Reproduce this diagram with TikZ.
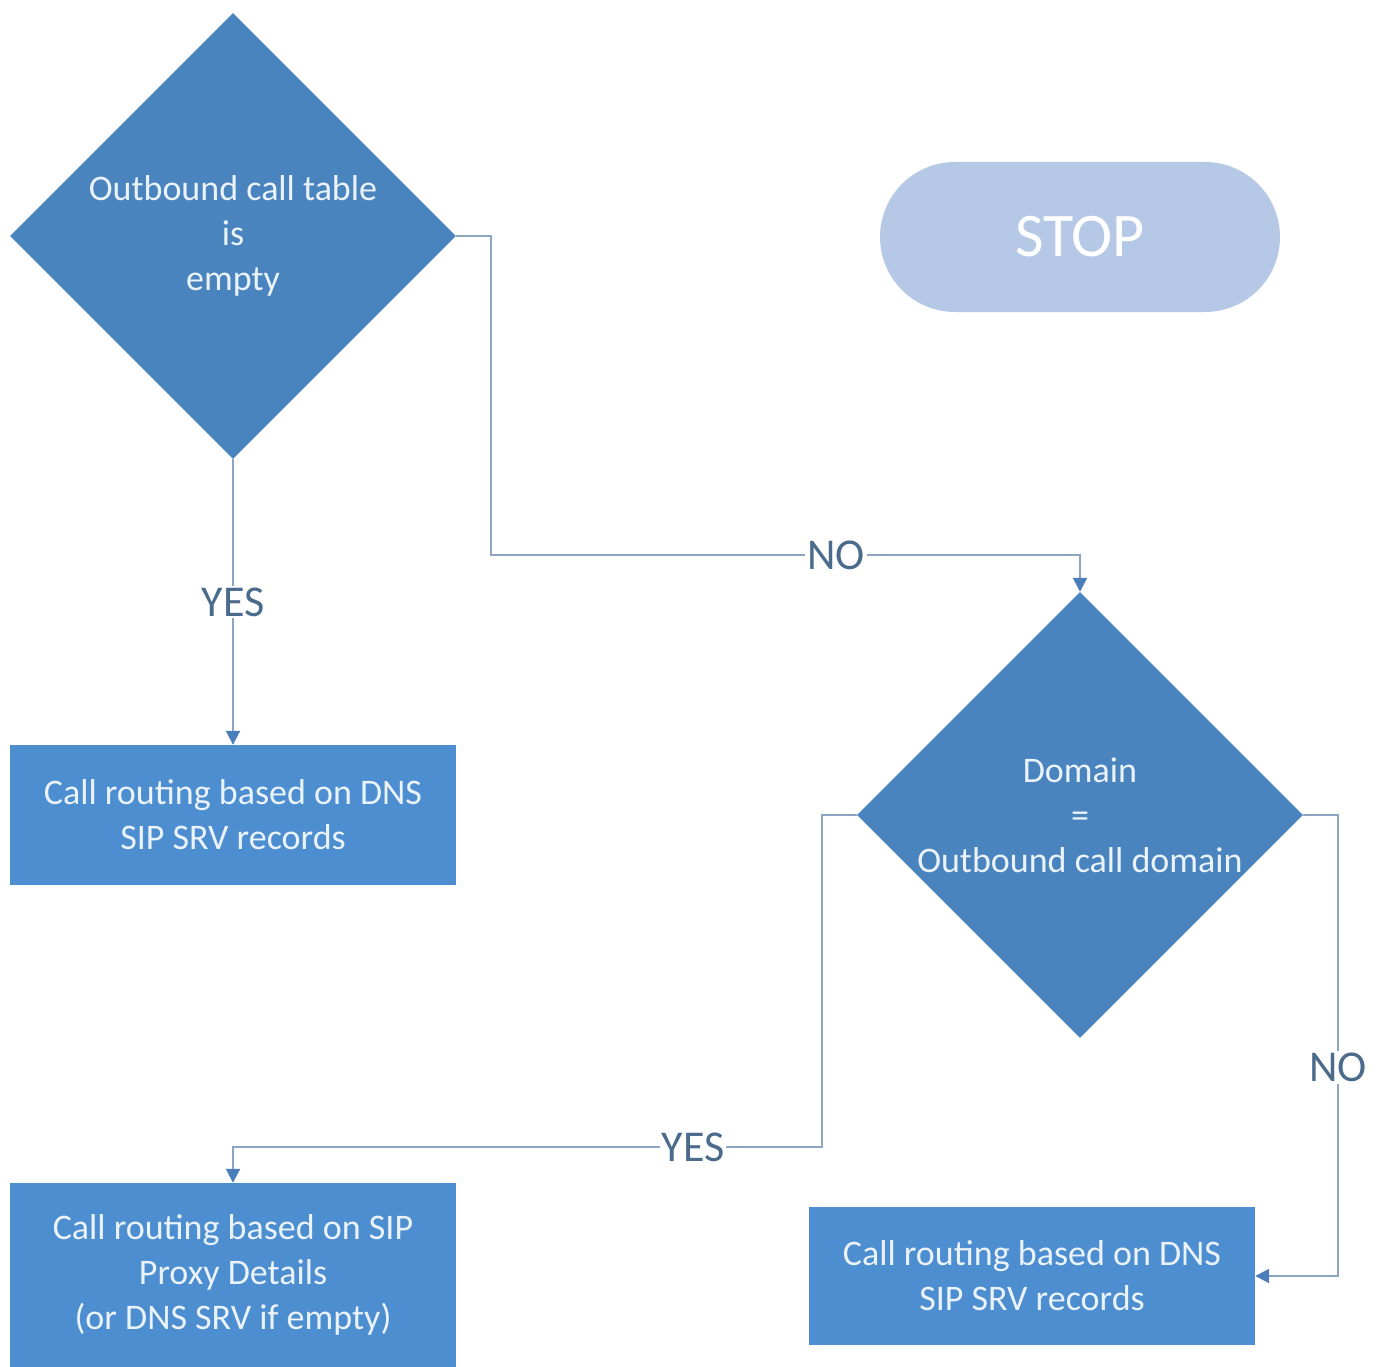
\documentclass[tikz,border=0pt]{standalone}
\usepackage{fontspec}
\setmainfont{Carlito}
\usepackage{tikz}
\usetikzlibrary{arrows.meta}
\usetikzlibrary{shapes.geometric}

\definecolor{decblue}{HTML}{4A84BF}
\definecolor{boxblue}{HTML}{4D8ED0}
\definecolor{stopblue}{HTML}{B5C9E7}
\definecolor{linegray}{HTML}{8EA5C2}
\definecolor{tipblue}{HTML}{4A7EBB}
\definecolor{lbltext}{HTML}{4B6B8C}
\definecolor{shapetext}{HTML}{EAF2FA}

\begin{document}
\begin{tikzpicture}[x=1pt,y=-1pt]

      \useasboundingbox (0,0) rectangle (1385,1367);

      % decisions
      \begin{scope}[every node/.style={diamond,fill=decblue,minimum size=446pt,inner sep=0pt}]
        \node (d1) at (233,236) {};
        \node (d2) at (1080,815) {};
      \end{scope}

      % actions
      \begin{scope}[every node/.style={rectangle,fill=boxblue,minimum width=446pt,inner sep=0pt}]
        \node[minimum height=140pt] (box1) at (233,815) {};
        \node[minimum height=184pt] (box2) at (233,1275) {};
        \node[minimum height=138pt] (box3) at (1032,1276) {};
      \end{scope}

      \node[fill=stopblue,rounded corners=75pt,minimum width=400pt,minimum height=150pt,
        text=white,font=\fontsize{62}{70}\selectfont] (stop) at (1080,237) {STOP};

      % texts
      \begin{scope}[every node/.style={text=shapetext,align=center,font=\fontsize{36}{45}\selectfont}]
        \node (t1) at (d1) {Outbound call table\\is\\empty};
        \node (t2) at (d2) {Domain\\=\\Outbound call domain};
        \node (t3) at (box1) {Call routing based on DNS\\SIP SRV records};
        \node (t4) at (box2) {Call routing based on SIP\\Proxy Details\\(or DNS SRV if empty)};
        \node (t5) at (box3) {Call routing based on DNS\\SIP SRV records};
      \end{scope}

      \coordinate (j1) at (491,555);
      \coordinate (j2) at (822,1147);
      \coordinate (j3) at (1338,1276);

      \begin{scope}[>={Triangle[length=14pt,width=14pt,tipblue]},
          every node/.style={fill=white,inner sep=2pt,text=lbltext,font=\fontsize{44}{50}\selectfont},
          every path/.style={draw=linegray,line width=2pt}]
        \path [->] (d1.south) -- node {YES} (box1.north);
        \path [->] (d1.east) -| (j1) -- node[pos=.586] {NO} (j1 -| d2.north) -- (d2.north);
        \path [->] (d2.west) -| (j2) -- node[pos=.219] {YES} (j2 -| box2.north) -- (box2.north);
        \path [->] (d2.east) -- (d2.east -| j3) -- node[pos=.548] {NO} (j3) -- (box3.east);
      \end{scope}
    \end{tikzpicture}
\end{document}
